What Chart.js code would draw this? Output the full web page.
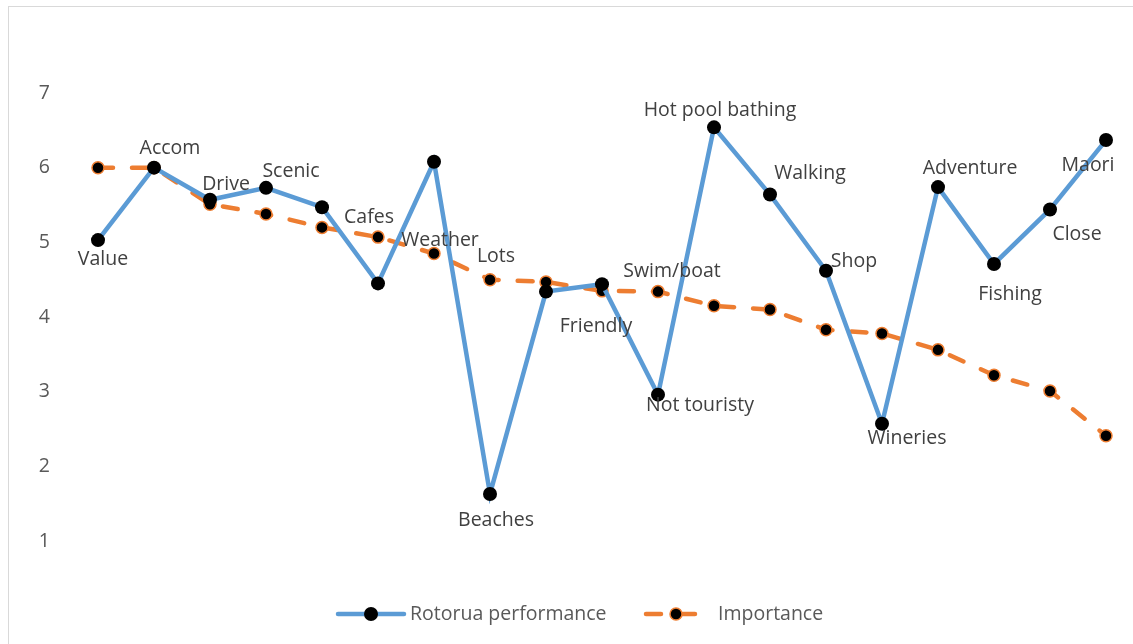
<!DOCTYPE html>
<html>
<head>
<meta charset="utf-8">
<script src="https://cdn.jsdelivr.net/npm/chart.js@4"></script>
<style>
  body { margin: 0; background: #fff; }
  #wrap { position: relative; width: 1133px; height: 644px; }
</style>
</head>
<body>
<div id="wrap"><canvas id="myChart" width="1133" height="644"></canvas></div>
<script>
// attribute names, in chart order
const attributes = ['Value','Accom','Drive','Scenic','Cafes','Weather','Lots','Beaches','Friendly',
  'Swim/boat','Not touristy','Hot pool bathing','Walking','Shop','Wineries','Adventure','Fishing','Close','Maori'];

// series values
const performance = [5.03,6.0,5.57,5.73,5.47,4.45,6.08,1.63,4.34,4.44,2.96,6.54,5.64,4.62,2.57,5.74,4.71,5.44,6.37];
const importance  = [6.0,6.0,5.51,5.38,5.2,5.07,4.85,4.5,4.47,4.35,4.34,4.15,4.1,3.83,3.78,3.56,3.22,3.01,2.41];

const yTicks = [1,2,3,4,5,6,7];

const FONT = '"Open Sans", sans-serif';

// where each data label sits relative to its performance point (px)
const labelOffsets = [[5,17],[16,-21],[16,-17],[25,-18],[47,8],[62,-45],[62,93],[6,24],[50,33],
  [70,-15],[42,9],[6,-19],[40,-23],[28,-11],[25,13],[32,-21],[16,28],[27,23],[-18,23]];

// outer chart frame (Excel style light border)
const framePlugin = {
  id: 'frame',
  beforeDraw(chart) {
    const c = chart.ctx;
    c.save();
    c.fillStyle = '#fff';
    c.fillRect(0, 0, chart.width, chart.height);
    c.strokeStyle = '#d9d9d9';
    c.lineWidth = 1;
    c.strokeRect(8.5, 6.5, chart.width + 20, chart.height + 20);
    c.restore();
  }
};

// data labels placed by hand, as in the original
const labelPlugin = {
  id: 'pointLabels',
  afterDatasetsDraw(chart) {
    const c = chart.ctx;
    const meta = chart.getDatasetMeta(0);
    c.save();
    c.font = '19.5px ' + FONT;
    c.fillStyle = '#404040';
    c.textAlign = 'center';
    c.textBaseline = 'middle';
    meta.data.forEach((pt, i) => {
      const off = labelOffsets[i];
      c.fillText(attributes[i], pt.x + off[0], pt.y + off[1] + 2);
    });
    c.restore();
  }
};

// legend with a line sample and marker, like Excel
const legendPlugin = {
  id: 'lineLegend',
  afterDraw(chart) {
    const c = chart.ctx;
    const y = 614;
    const items = [
      {x: 338, len: 66, gap: 6},
      {x: 646, len: 60, gap: 12}
    ];
    c.save();
    c.font = '19.5px ' + FONT;
    c.textBaseline = 'middle';
    c.textAlign = 'left';
    chart.data.datasets.forEach((ds, i) => {
      const it = items[i];
      c.strokeStyle = ds.borderColor;
      c.lineWidth = 4.5;
      c.lineCap = 'round';
      c.setLineDash(ds.borderDash || []);
      c.beginPath();
      c.moveTo(it.x, y);
      c.lineTo(it.x + it.len, y);
      c.stroke();
      c.setLineDash([]);
      c.beginPath();
      c.arc(it.x + it.len / 2, y, ds.pointRadius, 0, Math.PI * 2);
      c.fillStyle = ds.pointBackgroundColor;
      c.fill();
      if (ds.pointBorderWidth) {
        c.strokeStyle = ds.pointBorderColor;
        c.lineWidth = ds.pointBorderWidth;
        c.stroke();
      }
      c.fillStyle = '#595959';
      c.fillText(ds.label, it.x + it.len + it.gap, y);
    });
    c.restore();
  }
};

let ctx = document.getElementById('myChart').getContext('2d');
window.chart = new Chart(ctx, {
  type: 'line',
  data: {
    labels: attributes,
    datasets: [{
      label: 'Rotorua performance',
      data: performance,
      borderColor: '#5b9bd5',
      borderWidth: 4.5,
      pointRadius: 7,
      pointBackgroundColor: '#000',
      pointBorderColor: '#000',
      pointBorderWidth: 0,
      tension: 0,
      order: 1
    }, {
      label: 'Importance',
      data: importance,
      borderColor: '#ed7d31',
      borderWidth: 4.5,
      borderDash: [15, 19],
      borderCapStyle: 'round',
      pointRadius: 6,
      pointBackgroundColor: '#000',
      pointBorderColor: '#ed7d31',
      pointBorderWidth: 1.5,
      tension: 0,
      order: 2
    }]
  },
  options: {
    responsive: false,
    animation: false,
    layout: { padding: { top: 93, bottom: 103, left: 0, right: 27 } },
    plugins: {
      legend: { display: false },
      tooltip: { enabled: false }
    },
    scales: {
      x: { display: false, offset: false },
      y: {
        min: 1, max: 7,
        afterBuildTicks: s => { s.ticks = yTicks.map(v => ({ value: v })); },
        afterFit: s => { s.width = 98; },
        grid: { display: false, drawTicks: false },
        border: { display: false },
        ticks: { padding: 48, color: '#595959', font: { family: FONT, size: 19.5 } }
      }
    }
  },
  plugins: [framePlugin, labelPlugin, legendPlugin]
});
</script>
</body>
</html>
